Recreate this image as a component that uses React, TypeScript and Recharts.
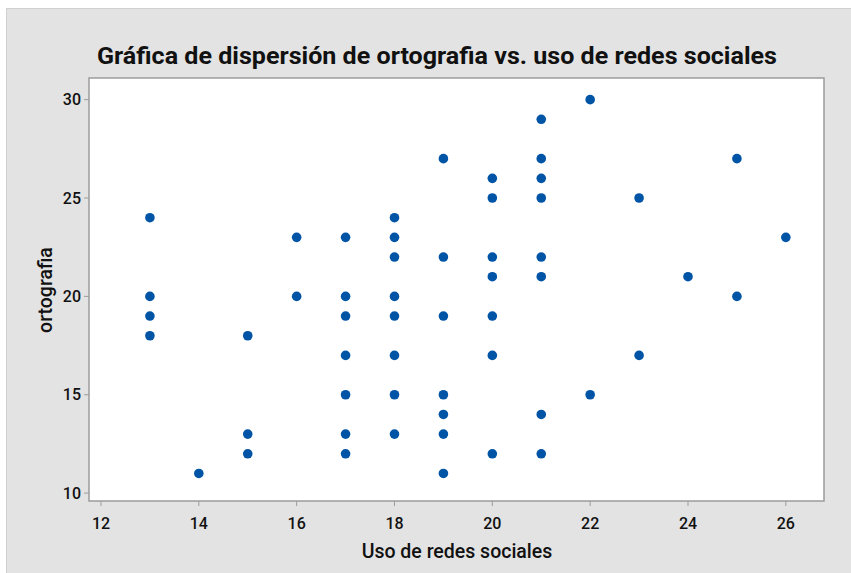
import { ScatterChart, Scatter, XAxis, YAxis, ReferenceArea } from "recharts";

// Minitab scatterplot: ortografia vs. uso de redes sociales
const usoRedes = [
  13, 13, 13, 13,
  14,
  15, 15, 15,
  16, 16,
  17, 17, 17, 17, 17, 17, 17,
  18, 18, 18, 18, 18, 18, 18, 18,
  19, 19, 19, 19, 19, 19, 19,
  20, 20, 20, 20, 20, 20, 20,
  21, 21, 21, 21, 21, 21, 21, 21,
  22, 22,
  23, 23,
  24,
  25, 25,
  26,
];
const ortografia = [
  24, 20, 19, 18,
  11,
  18, 13, 12,
  23, 20,
  23, 20, 19, 17, 15, 13, 12,
  24, 23, 22, 20, 19, 17, 15, 13,
  27, 22, 19, 15, 14, 13, 11,
  26, 25, 22, 21, 19, 17, 12,
  29, 27, 26, 25, 22, 21, 14, 12,
  30, 15,
  25, 17,
  21,
  27, 20,
  23,
];
const xTicks = [12, 14, 16, 18, 20, 22, 24, 26];
const yTicks = [10, 15, 20, 25, 30];
const xDomain = [11.755, 26.78];
const yDomain = [9.6, 31.1];

const title = "Gráfica de dispersión de ortografia vs. uso de redes sociales";
const xTitle = "Uso de redes sociales";
const yTitle = "ortografia";

const data = usoRedes.map((x, i) => ({ x, y: ortografia[i] }));

const FONT = "Roboto, 'DejaVu Sans', sans-serif";
const AXIS = "#9c9c9c";
const DOT = "#0054a6";

const tickStyle = { fontSize: 16, fontWeight: 500, fill: "#111", fontFamily: FONT };

export default function App() {
  return (
    <div style={{ position: "absolute", left: 0, top: 0, width: 851, height: 573, background: "#fff", fontFamily: FONT }}>
      <div
        style={{
          position: "absolute",
          left: 6,
          top: 8,
          width: 845,
          height: 565,
          background: "#e3e3e3",
          borderLeft: "1px solid #d0d0d0",
          borderTop: "1px solid #d0d0d0",
          boxSizing: "border-box",
        }}
      />
      <div style={{ position: "absolute", left: 0, top: 0 }}>
        <ScatterChart width={851} height={573} margin={{ top: 78, right: 27, bottom: 0, left: 29 }}>
          <XAxis
            type="number"
            dataKey="x"
            domain={xDomain}
            ticks={xTicks}
            allowDataOverflow
            height={72}
            tickSize={5}
            tickMargin={12}
            tick={tickStyle}
            stroke={AXIS}
            axisLine={false}
          />
          <YAxis
            type="number"
            dataKey="y"
            domain={yDomain}
            ticks={yTicks}
            allowDataOverflow
            width={60}
            tickSize={5}
            tickMargin={3}
            tick={tickStyle}
            stroke={AXIS}
            axisLine={false}
          />
          {/* white plot panel with grey frame */}
          <ReferenceArea
            x1={xDomain[0]}
            x2={xDomain[1]}
            y1={yDomain[0]}
            y2={yDomain[1]}
            fill="#ffffff"
            fillOpacity={1}
            stroke={AXIS}
            strokeWidth={1.5}
            ifOverflow="visible"
          />
          <Scatter
            data={data}
            fill={DOT}
            isAnimationActive={false}
            shape={(props: any) => <circle cx={props.cx} cy={props.cy} r={4.8} fill={DOT} />}
          />
        </ScatterChart>
      </div>
      <svg width={851} height={573} style={{ position: "absolute", left: 0, top: 0, pointerEvents: "none" }}>
        <text
          x={437}
          y={63.5}
          textAnchor="middle"
          fontSize={23}
          fontWeight={700}
          fill="#111"
          fontFamily={FONT}
          textLength={680}
          lengthAdjust="spacingAndGlyphs"
        >
          {title}
        </text>
        <text x={457} y={558} textAnchor="middle" fontSize={19.5} fontWeight={500} fill="#111" fontFamily={FONT}>
          {xTitle}
        </text>
        <text
          x={52}
          y={290}
          transform="rotate(-90, 52, 290)"
          textAnchor="middle"
          fontSize={19.5}
          fontWeight={500}
          fill="#111"
          fontFamily={FONT}
        >
          {yTitle}
        </text>
      </svg>
    </div>
  );
}
